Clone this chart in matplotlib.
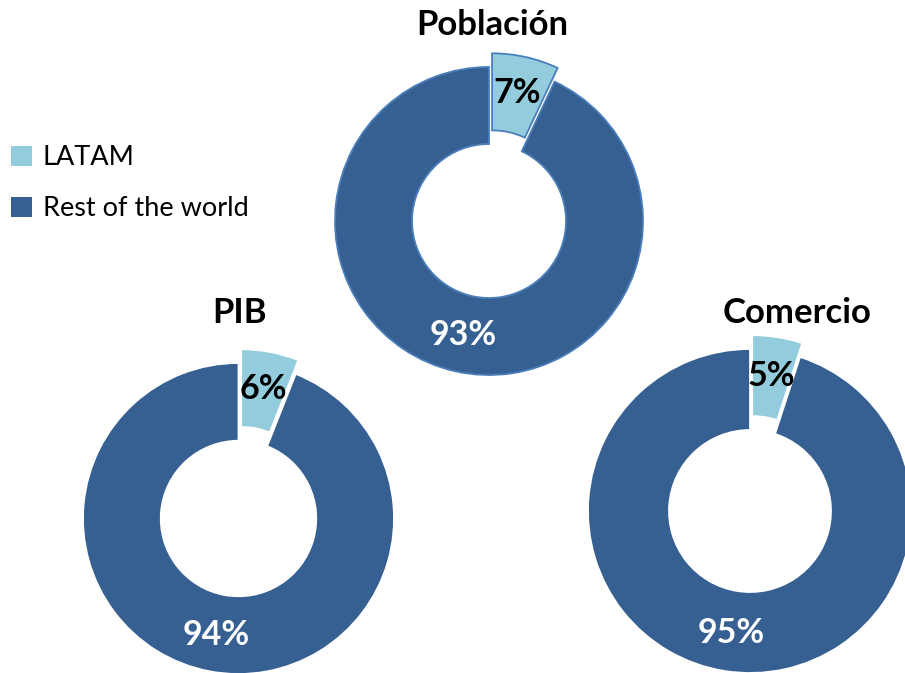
import matplotlib.pyplot as plt
from matplotlib.patches import Patch

# Share of LATAM vs rest of the world (%)
categories = ['LATAM', 'Rest of the world']
titles = ['Población', 'PIB', 'Comercio']
latam = [7, 6, 5]
rest = [93, 94, 95]

light = '#93CDDD'
dark = '#376092'

plt.rcParams['font.family'] = ['Lato', 'DejaVu Sans']

W, H = 905, 673
fig = plt.figure(figsize=(W / 100, H / 100), dpi=100)
ax = fig.add_axes([0, 0, 1, 1])

# donut centres / radii in pixel space (y measured from top)
layout = [
    dict(cx=489, cy=221, r=154, title_xy=(492, 25), edge='#4A7EBB'),
    dict(cx=238.5, cy=518.5, r=155.5, title_xy=(240, 313), edge='white'),
    dict(cx=750, cy=511, r=162, title_xy=(797, 313), edge='white'),
]

for i, spec in enumerate(layout):
    r = spec['r']
    wedges, _, autotexts = ax.pie(
        [latam[i], rest[i]],
        colors=[light, dark],
        startangle=90,
        counterclock=False,
        center=(spec['cx'], H - spec['cy']),
        radius=r,
        explode=[14, 0],  # pie offsets in data units (pixels here)
        autopct='%.0f%%',
        pctdistance=0.76,
        wedgeprops=dict(width=r * 0.5, edgecolor=spec['edge'], linewidth=1.3),
        textprops=dict(fontsize=24.5, fontweight='bold'),
        frame=True,
    )
    autotexts[0].set_color('black')
    autotexts[1].set_color('white')
    tx, ty = spec['title_xy']
    ax.text(tx, H - ty, titles[i], ha='center', va='center',
            fontsize=25, fontweight='bold', color='black')

ax.set_xlim(0, W)
ax.set_ylim(0, H)
ax.set_aspect('equal')
ax.axis('off')

handles = [Patch(facecolor=light, edgecolor='none'),
           Patch(facecolor=dark, edgecolor='none')]
ax.legend(handles, categories, loc='upper left',
          bbox_to_anchor=(6 / W, 1 - 140 / H), frameon=False,
          fontsize=19.5, handlelength=0.75, handleheight=0.75,
          handletextpad=0.4, labelspacing=0.95, borderaxespad=0.0,
          borderpad=0.2)

fig.savefig('out.png', dpi=100)
